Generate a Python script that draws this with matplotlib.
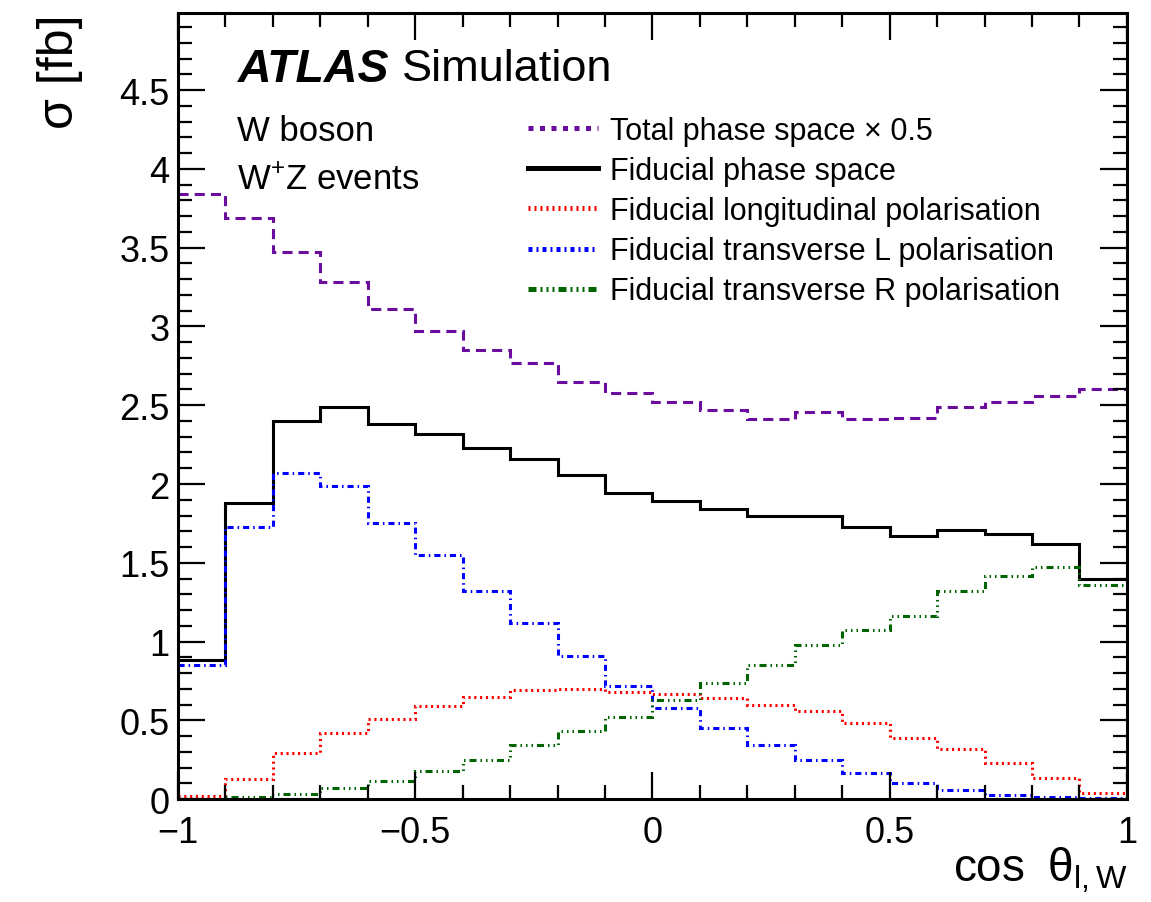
import numpy as np
import matplotlib
matplotlib.use("Agg")
import matplotlib.pyplot as plt
from matplotlib.lines import Line2D
from matplotlib.ticker import MultipleLocator, FixedLocator, FuncFormatter

plt.rcParams["font.family"] = ["Liberation Sans", "DejaVu Sans"]
plt.rcParams["mathtext.fontset"] = "custom"
plt.rcParams["mathtext.rm"] = "Liberation Sans"
plt.rcParams["mathtext.it"] = "Liberation Sans:italic"
plt.rcParams["mathtext.bf"] = "Liberation Sans:bold"

# bin edges in cos(theta_l,W), 20 bins
edges = np.linspace(-1, 1, 21)

total_x05 = [3.84, 3.69, 3.47, 3.28, 3.11, 2.97, 2.85, 2.77, 2.65, 2.58,
             2.52, 2.47, 2.41, 2.46, 2.41, 2.42, 2.49, 2.52, 2.56, 2.60]
fiducial = [0.88, 1.88, 2.40, 2.49, 2.38, 2.32, 2.23, 2.16, 2.06, 1.94,
            1.89, 1.84, 1.80, 1.80, 1.73, 1.67, 1.71, 1.68, 1.62, 1.40]
fid_long = [0.02, 0.13, 0.29, 0.42, 0.51, 0.59, 0.65, 0.69, 0.70, 0.68,
            0.67, 0.64, 0.60, 0.56, 0.48, 0.39, 0.32, 0.23, 0.135, 0.04]
fid_transL = [0.85, 1.73, 2.07, 1.99, 1.75, 1.55, 1.32, 1.12, 0.91, 0.72,
              0.58, 0.45, 0.34, 0.25, 0.165, 0.10, 0.06, 0.025, 0.011, 0.004]
fid_transR = [0.002, 0.011, 0.032, 0.068, 0.116, 0.18, 0.25, 0.34, 0.43, 0.52,
              0.63, 0.735, 0.85, 0.98, 1.075, 1.16, 1.32, 1.415, 1.47, 1.36]

labels = ["Total phase space \u00d7 0.5", "Fiducial phase space",
          "Fiducial longitudinal polarisation",
          "Fiducial transverse L polarisation",
          "Fiducial transverse R polarisation"]
colors = ["#6a0d9e", "black", "#ff0000", "#0000ff", "#006400"]

fig = plt.figure(figsize=(11.51, 9.03), dpi=100)
ax = fig.add_axes([0.1547, 0.114, 0.8243, 0.8705])

lw = 2.2
styles = [(0, (3.3, 2.0)), "-", (0, (0.7, 1.2)), (0, (2.0, 1.3, 0.5, 1.3)),
          (0, (2.3, 1.3, 0.5, 1.3, 0.5, 1.3, 0.5, 1.3))]
series = [total_x05, fiducial, fid_long, fid_transL, fid_transR]
for vals, c, ls in zip(series, colors, styles):
    ax.stairs(vals, edges, baseline=None, color=c, lw=lw, linestyle=ls)

ax.set_xlim(-1, 1)
ax.set_ylim(0, 4.99)

ax.xaxis.set_major_locator(FixedLocator([-1, -0.5, 0, 0.5, 1]))
ax.xaxis.set_minor_locator(MultipleLocator(0.1))
ax.yaxis.set_major_locator(FixedLocator(np.arange(0, 5, 0.5)))
ax.yaxis.set_minor_locator(MultipleLocator(0.1))
fmt = FuncFormatter(lambda v, p: ("%g" % v).replace("-", "\u2212"))
ax.xaxis.set_major_formatter(fmt)
ax.yaxis.set_major_formatter(fmt)

ax.tick_params(which="both", direction="in", top=True, right=True, width=1.6)
ax.tick_params(which="major", length=19.5, labelsize=26)
ax.tick_params(which="minor", length=10)
ax.tick_params(axis="x", which="major", pad=11.5)
ax.tick_params(axis="y", which="major", pad=6)
for s in ax.spines.values():
    s.set_linewidth(2.2)

ax.set_ylabel("\u03c3 [fb]", fontsize=36, loc="top")
ax.yaxis.set_label_coords(-0.1, 1.0)
ax.set_xlabel(r"cos $\;\mathrm{\theta}_{\mathrm{l,W}}$", fontsize=33, loc="right")
ax.xaxis.set_label_coords(1.0, -0.058)

ax.text(0.063, 0.929, "ATLAS", transform=ax.transAxes, fontsize=33.5,
        fontweight="bold", fontstyle="italic", va="center")
ax.text(0.236, 0.929, "Simulation", transform=ax.transAxes, fontsize=32.5,
        va="center")
ax.text(0.062, 0.850, "W boson", transform=ax.transAxes, fontsize=25,
        va="center")
ax.text(0.062, 0.788, r"W$^{+}$Z events", transform=ax.transAxes, fontsize=25,
        va="center")

# legend proxies (thicker samples, as in the original)
leg_styles = [(0, (1.0, 1.3)), "-", (0, (0.4, 0.8)), (0, (0.8, 0.8, 0.4, 0.8)),
              (0, (1.6, 0.8, 0.4, 0.8, 0.4, 0.8, 0.4, 0.8))]
handles = [Line2D([], [], color=c, lw=3.6, linestyle=ls)
           for c, ls in zip(colors, leg_styles)]
ax.legend(handles, labels, loc="upper left",
          bbox_to_anchor=(0.3688, 0.869), frameon=False, fontsize=22,
          handlelength=2.3, handletextpad=0.4, labelspacing=0.33,
          borderpad=0, borderaxespad=0)

fig.savefig("out.png", dpi=100)
